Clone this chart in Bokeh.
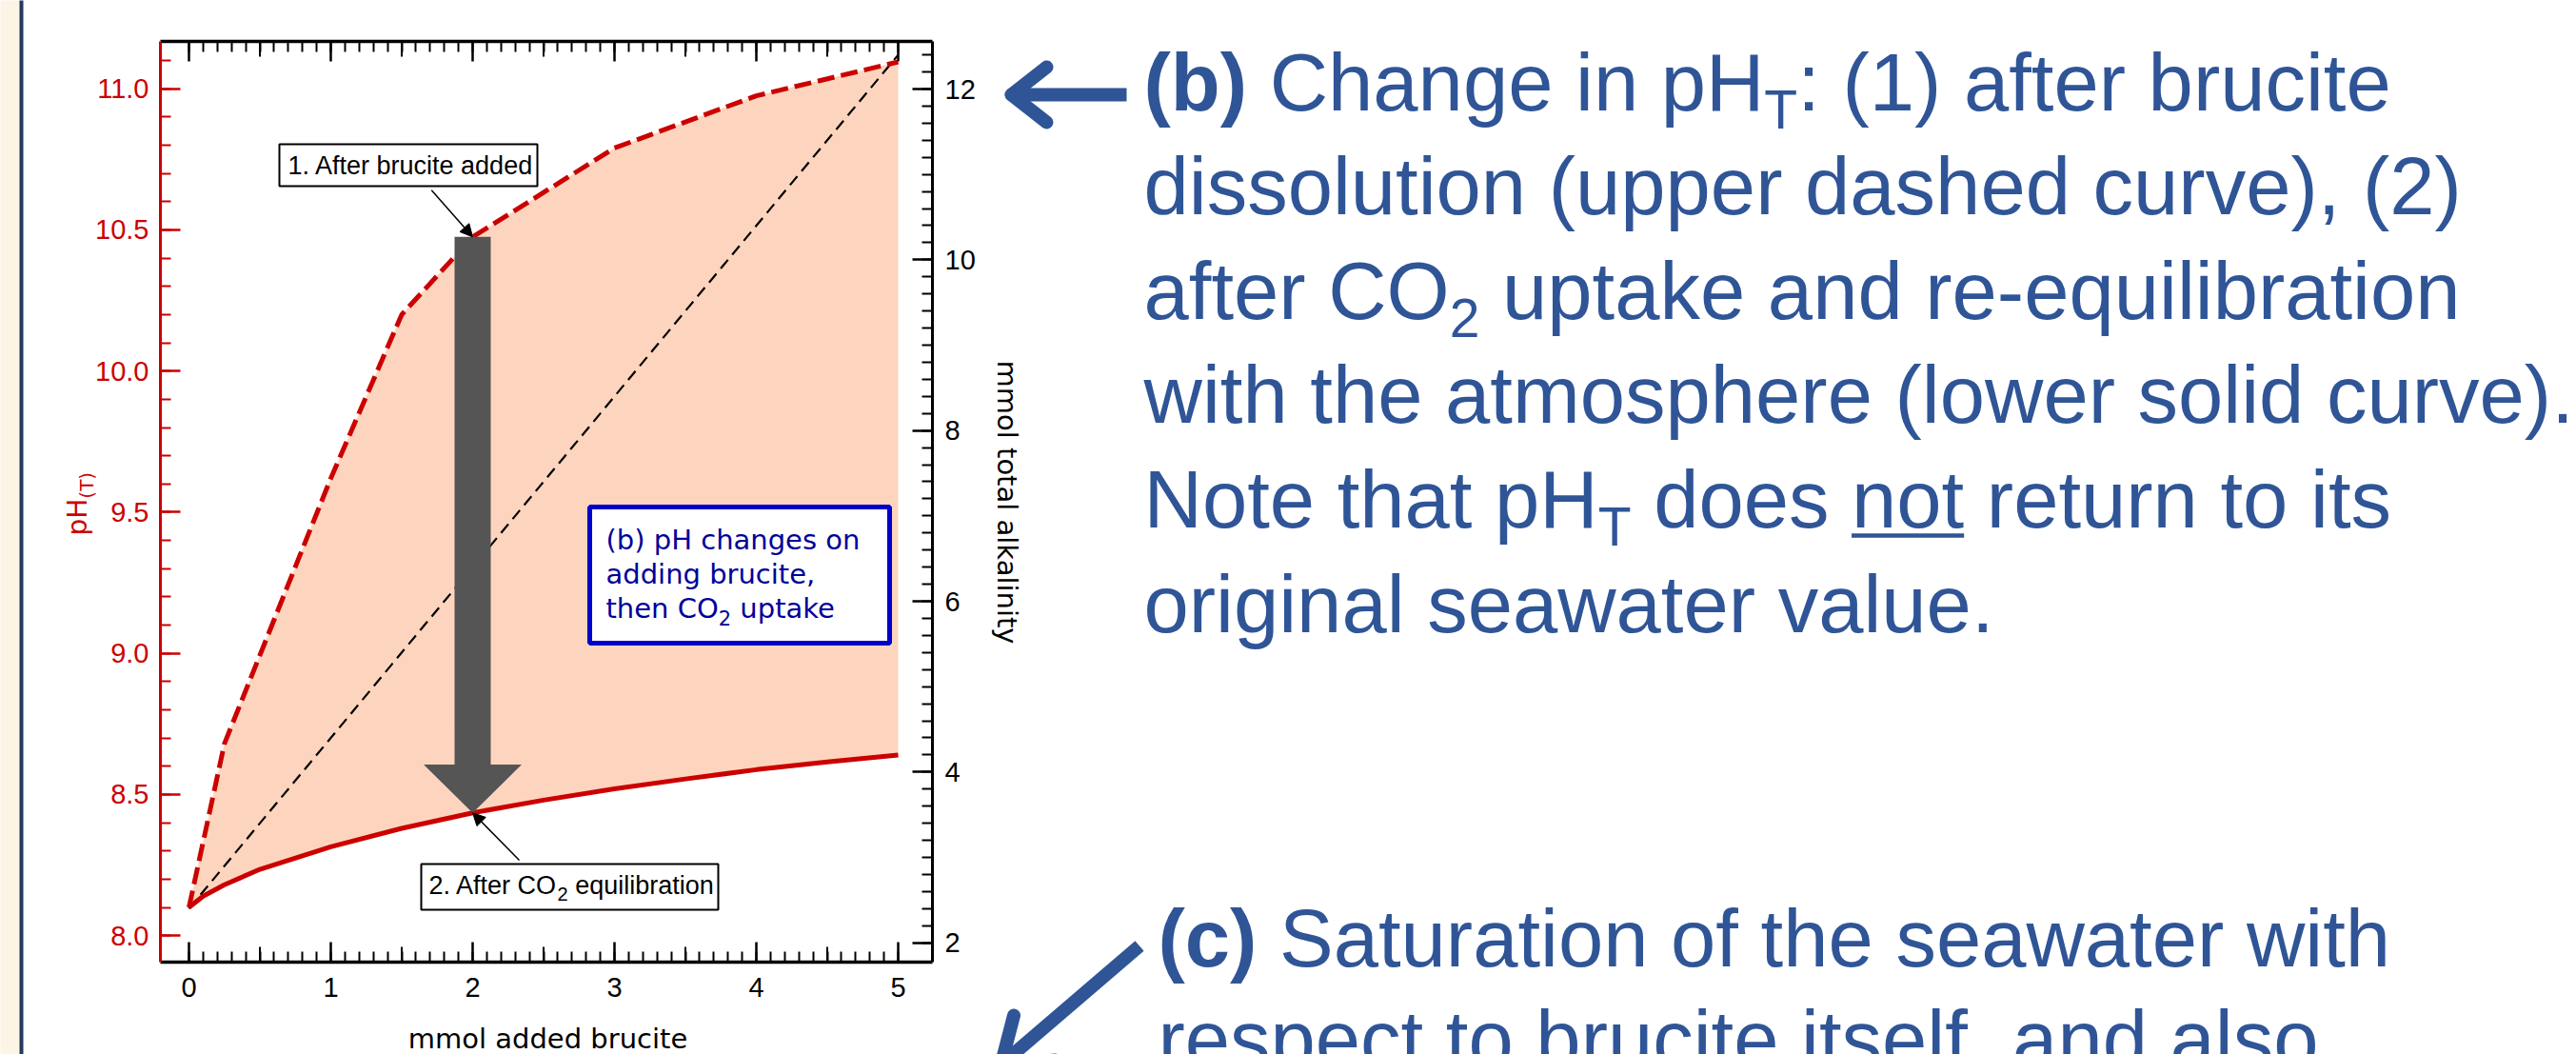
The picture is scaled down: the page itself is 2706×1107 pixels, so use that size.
import math
from bokeh.plotting import figure
from bokeh.models import (Range1d, LinearAxis, FixedTicker, NumeralTickFormatter,
                          Label, Arrow, NormalHead, GridBox)
from bokeh.embed import file_html
from bokeh.resources import INLINE

# ---------------- data ----------------
brucite_upper = [0, 0.25, 1, 1.5, 2, 3, 4, 5]
ph_after_brucite = [8.10, 8.68, 9.62, 10.20, 10.475, 10.79, 10.975, 11.095]
brucite_lower = [0, 0.1, 0.25, 0.5, 1, 1.5, 2, 2.5, 3, 3.5, 4, 4.5, 5]
ph_after_co2 = [8.10, 8.14, 8.18, 8.235, 8.315, 8.38, 8.435, 8.48, 8.52, 8.555, 8.588, 8.615, 8.64]
brucite_alk = [0, 5]
total_alkalinity = [2.4, 12.4]
x_ticks = [0, 1, 2, 3, 4, 5]
ph_ticks = [8.0, 8.5, 9.0, 9.5, 10.0, 10.5, 11.0]
alk_ticks = [2, 4, 6, 8, 10, 12]
arrow_at = 2  # mmol brucite where the grey arrow is drawn

# ---------------- geometry / styles ----------------
W, H = 2706, 1107
FL, FR, FT, FB = 168.0, 979.0, 43.0, 1010.0
X0_PX, X_PER = 198.0, 149.0
PH11_PX, PH_PER = 92.7, 296.5
ALK12_PX, ALK_PER = 93.0, 89.67

RED = "#CC0000"
PEACH = "#FDD5BE"
SLIDE_BLUE = "#2F5597"
BOX_BLUE = "#0000CC"
BOX_TXT = "#000099"
BASE_K = 0.31  # label baseline correction (fraction of font size)


def x_of(px):
    return (px - X0_PX) / X_PER


def ph_of(py):
    return 11.0 - (py - PH11_PX) / PH_PER


def alk_of(py):
    return 12.0 - (py - ALK12_PX) / ALK_PER


# ================= chart figure =================
p = figure(width=W, height=H, output_backend="svg", toolbar_location=None, title=None,
           x_range=Range1d(x_of(FL), x_of(FR)), y_range=Range1d(ph_of(FB), ph_of(FT)),
           min_border_left=int(FL), min_border_right=int(W - FR),
           min_border_top=int(FT), min_border_bottom=int(H - FB),
           background_fill_color="white", border_fill_color=None,
           outline_line_color=None, frame_align=False)
p.grid.visible = False
p.extra_y_ranges = {"px": Range1d(FB, FT), "alk": Range1d(alk_of(FB), alk_of(FT))}


def style_axis(ax, color, lw):
    ax.axis_line_color = color
    ax.axis_line_width = lw
    ax.major_tick_line_color = color
    ax.minor_tick_line_color = color
    ax.major_tick_line_width = 2.5
    ax.minor_tick_line_width = 2
    ax.major_tick_in = 21
    ax.major_tick_out = 0
    ax.minor_tick_in = 11
    ax.minor_tick_out = 0
    ax.major_label_text_font = "Liberation Sans"
    ax.major_label_text_font_size = "29px"
    ax.major_label_text_color = color


x_minor = [round(i * 0.1, 1) for i in range(0, 51)]
xb = p.xaxis[0]
xb.ticker = FixedTicker(ticks=x_ticks, minor_ticks=x_minor)
style_axis(xb, "black", 3.5)
xb.major_label_standoff = 16

xa = LinearAxis(ticker=FixedTicker(ticks=x_ticks, minor_ticks=x_minor))
style_axis(xa, "black", 3.5)
xa.major_label_overrides = {t: "" for t in x_ticks}
xa.major_label_text_font_size = "1px"
xa.major_label_standoff = 0
p.add_layout(xa, "above")

yl = p.yaxis[0]
yl.ticker = FixedTicker(ticks=ph_ticks, minor_ticks=[round(8.0 + i * 0.1, 1) for i in range(0, 32)])
style_axis(yl, RED, 3)
yl.formatter = NumeralTickFormatter(format="0.0")
yl.major_label_standoff = 12

yr = LinearAxis(y_range_name="alk",
                ticker=FixedTicker(ticks=alk_ticks, minor_ticks=[round(2.0 + i * 0.2, 1) for i in range(0, 53)]))
style_axis(yr, "black", 3)
yr.major_label_standoff = 13
p.add_layout(yr, "right")

# medium (half-unit) ticks on bottom and top axes
half = [t + 0.5 for t in x_ticks[:-1]]
p.segment(x0=half, x1=half, y0=[FB] * len(half), y1=[FB - 16] * len(half),
          y_range_name="px", line_color="black", line_width=2)
p.segment(x0=half, x1=half, y0=[FT] * len(half), y1=[FT + 16] * len(half),
          y_range_name="px", line_color="black", line_width=2)

# chart marks
p.patch(x=brucite_upper + brucite_lower[::-1], y=ph_after_brucite + ph_after_co2[::-1],
        fill_color=PEACH, line_color=None)
p.line(brucite_alk, total_alkalinity, y_range_name="alk", line_color="black",
       line_width=2.2, line_dash="12 7")
p.line(brucite_upper, ph_after_brucite, line_color=RED, line_width=5, line_dash="18 7")
p.line(brucite_lower, ph_after_co2, line_color=RED, line_width=5)

top_ph = ph_after_brucite[brucite_upper.index(arrow_at)]
tip_ph = ph_after_co2[brucite_lower.index(arrow_at)]
sw, hw, hl = 19 / X_PER, 51.5 / X_PER, 50.7 / PH_PER
p.patch(x=[arrow_at - sw, arrow_at + sw, arrow_at + sw, arrow_at + hw, arrow_at, arrow_at - hw, arrow_at - sw],
        y=[top_ph, top_ph, tip_ph + hl, tip_ph + hl, tip_ph, tip_ph + hl, tip_ph + hl],
        fill_color="#555555", line_color=None)

p.add_layout(Arrow(end=NormalHead(size=13, fill_color="black", line_color="black", line_width=1),
                   x_start=x_of(452.8), y_start=ph_of(199.3), x_end=arrow_at, y_end=top_ph,
                   line_color="black", line_width=1.5))
p.add_layout(Arrow(end=NormalHead(size=13, fill_color="black", line_color="black", line_width=1),
                   x_start=x_of(545), y_start=ph_of(903), x_end=arrow_at, y_end=tip_ph,
                   line_color="black", line_width=1.5))

# ================= overlay figure (texts, boxes, slide panel) =================
q = figure(width=W, height=H, output_backend="svg", toolbar_location=None, title=None,
           x_range=Range1d(0, W), y_range=Range1d(H, 0),
           x_axis_location=None, y_axis_location=None,
           min_border_left=0, min_border_right=0, min_border_top=0, min_border_bottom=0,
           background_fill_color=None, border_fill_color=None, outline_line_color=None,
           frame_align=False)
q.grid.visible = False

# cream side strip and navy rule
q.quad(left=[-10], right=[20], top=[-10], bottom=[H + 10], fill_color="#FCF4E4", line_color=None)
q.quad(left=[20], right=[24], top=[-10], bottom=[H + 10], fill_color="#23395D", line_color=None)

# annotation boxes
q.quad(left=[293], right=[564], top=[151], bottom=[195],
       fill_color="white", line_color="black", line_width=2)
q.quad(left=[442], right=[754], top=[907], bottom=[955],
       fill_color="white", line_color="black", line_width=2)
q.quad(left=[619], right=[934], top=[532], bottom=[675],
       fill_color="white", line_color=BOX_BLUE, line_width=5)

ARIAL = {' ': 278, '(': 333, ')': 333, ':': 278, ',': 278, '.': 278, '-': 333, '1': 556, '2': 556,
         'a': 556, 'b': 556, 'c': 500, 'd': 556, 'e': 556, 'f': 278, 'g': 556, 'h': 556, 'i': 222,
         'j': 222, 'k': 500, 'l': 222, 'm': 833, 'n': 556, 'o': 556, 'p': 556, 'q': 556, 'r': 333,
         's': 500, 't': 278, 'u': 556, 'v': 500, 'w': 722, 'x': 500, 'y': 500, 'z': 500,
         'A': 667, 'C': 722, 'H': 722, 'N': 722, 'O': 778, 'S': 667, 'T': 611}
ARIAL_B = {' ': 278, '(': 333, ')': 333, 'b': 611, 'c': 556}
DEJAVU = {' ': 318, '(': 390, ')': 390, 'C': 698, 'H': 752, 'O': 787, 'T': 611, 'a': 613,
          'e': 615, 'h': 634, 'k': 579, 'n': 634, 'p': 635, 't': 392, 'u': 634, '2': 636}


def tw(text, table, size):
    return sum(table[c] for c in text) / 1000.0 * size


def add_text(x, y, text, size, color, font, style="normal", angle=0.0, align="left"):
    # (x, y) is the wanted alphabetic baseline point in reference pixels
    if angle == 0:
        y -= BASE_K * size
    elif angle > 0:
        x -= BASE_K * size
    else:
        x += BASE_K * size
    q.add_layout(Label(x=x, y=y, text=text,
                       text_font=font, text_font_size=f"{size}px", text_font_style=style,
                       text_color=color, text_align=align, text_baseline="alphabetic",
                       angle=angle))


def stroke(x0, y0, x1, y1, color, w, cap="round"):
    q.add_layout(Arrow(start=None, end=None, x_start=x0, y_start=y0, x_end=x1, y_end=y1,
                       line_color=color, line_width=w, line_cap=cap))


def rich(x, y, segs, size, color, font="Liberation Sans", table=ARIAL, btable=ARIAL_B,
         sub_size=None, sub_drop=0.0, ul_drop=11.5, ul_width=4.5):
    for text, kind in segs:
        if kind == "sub":
            s, yy, tbl, st = sub_size, y + sub_drop, table, "normal"
        elif kind == "b":
            s, yy, tbl, st = size, y, btable, "bold"
        else:
            s, yy, tbl, st = size, y, table, "normal"
        lead = len(text) - len(text.lstrip(" "))
        body = text.strip(" ")
        xs = x + tw(" " * lead, tbl, s)
        if body:
            add_text(xs, yy, body, s, color, font, st)
            if kind == "u":
                stroke(xs, y + ul_drop, xs + tw(body, tbl, s), y + ul_drop, color, ul_width, cap="butt")
        x += tw(text, tbl, s)


# box texts
add_text(302, 181.7, "1. After brucite added", 27, "black", "Liberation Sans")
rich(450, 938.3, [("2. After CO", "n"), ("2", "sub"), (" equilibration", "n")], 27, "black",
     sub_size=20, sub_drop=6)
add_text(636, 575, "(b) pH changes on", 29, BOX_TXT, "DejaVu Sans")
add_text(636, 611.5, "adding brucite,", 29, BOX_TXT, "DejaVu Sans")
rich(636, 647, [("then CO", "n"), ("2", "sub"), (" uptake", "n")], 29, BOX_TXT,
     font="DejaVu Sans", table=DEJAVU, sub_size=21, sub_drop=8)

# axis titles
add_text(575, 1099, "mmol added brucite", 29, "black", "DejaVu Sans", align="center")
add_text(1048.7, 527, "mmol total alkalinity", 29, "black", "DejaVu Sans",
         angle=-math.pi / 2, align="center")
add_text(89.5, 562, "pH", 28, RED, "DejaVu Sans", angle=math.pi / 2)
add_text(96.5, 562 - tw("pH", DEJAVU, 28), "(T)", 20, RED, "DejaVu Sans", angle=math.pi / 2)

# slide text
BIG = 85
b_lines = [
    [("(b)", "b"), (" Change in pH", "n"), ("T", "sub"), (": (1) after brucite", "n")],
    [("dissolution (upper dashed curve), (2)", "n")],
    [("after CO", "n"), ("2", "sub"), (" uptake and re-equilibration", "n")],
    [("with the atmosphere (lower solid curve).", "n")],
    [("Note that pH", "n"), ("T", "sub"), (" does ", "n"), ("not", "u"), (" return to its", "n")],
    [("original seawater value.", "n")],
]
b_base = [112.0, 221.6, 331.2, 440.8, 550.4, 660.0]
for segs, yb in zip(b_lines, b_base):
    rich(1201, yb, segs, BIG, SLIDE_BLUE, sub_size=57, sub_drop=20)

c_lines = [
    [("(c)", "b"), (" Saturation of the seawater with", "n")],
    [("respect to brucite itself, and also", "n")],
]
c_base = [1011.0, 1117.5]
for segs, yb in zip(c_lines, c_base):
    rich(1216, yb, segs, BIG, SLIDE_BLUE, sub_size=57, sub_drop=20)

# left-pointing arrow next to (b)
stroke(1183, 99, 1063, 99, SLIDE_BLUE, 14, cap="butt")
stroke(1062, 99, 1099, 70, SLIDE_BLUE, 14)
stroke(1062, 99, 1099, 128, SLIDE_BLUE, 14)
# down-left arrow next to (c)
stroke(1196.5, 993, 1053, 1116, SLIDE_BLUE, 14, cap="butt")
stroke(1051, 1118, 1064.5, 1066, SLIDE_BLUE, 14)
stroke(1051, 1118, 1108, 1113, SLIDE_BLUE, 14)

layout = GridBox(children=[(p, 0, 0), (q, 0, 0)])
open("out.html", "w").write(file_html(layout, INLINE, title="brucite pH"))
